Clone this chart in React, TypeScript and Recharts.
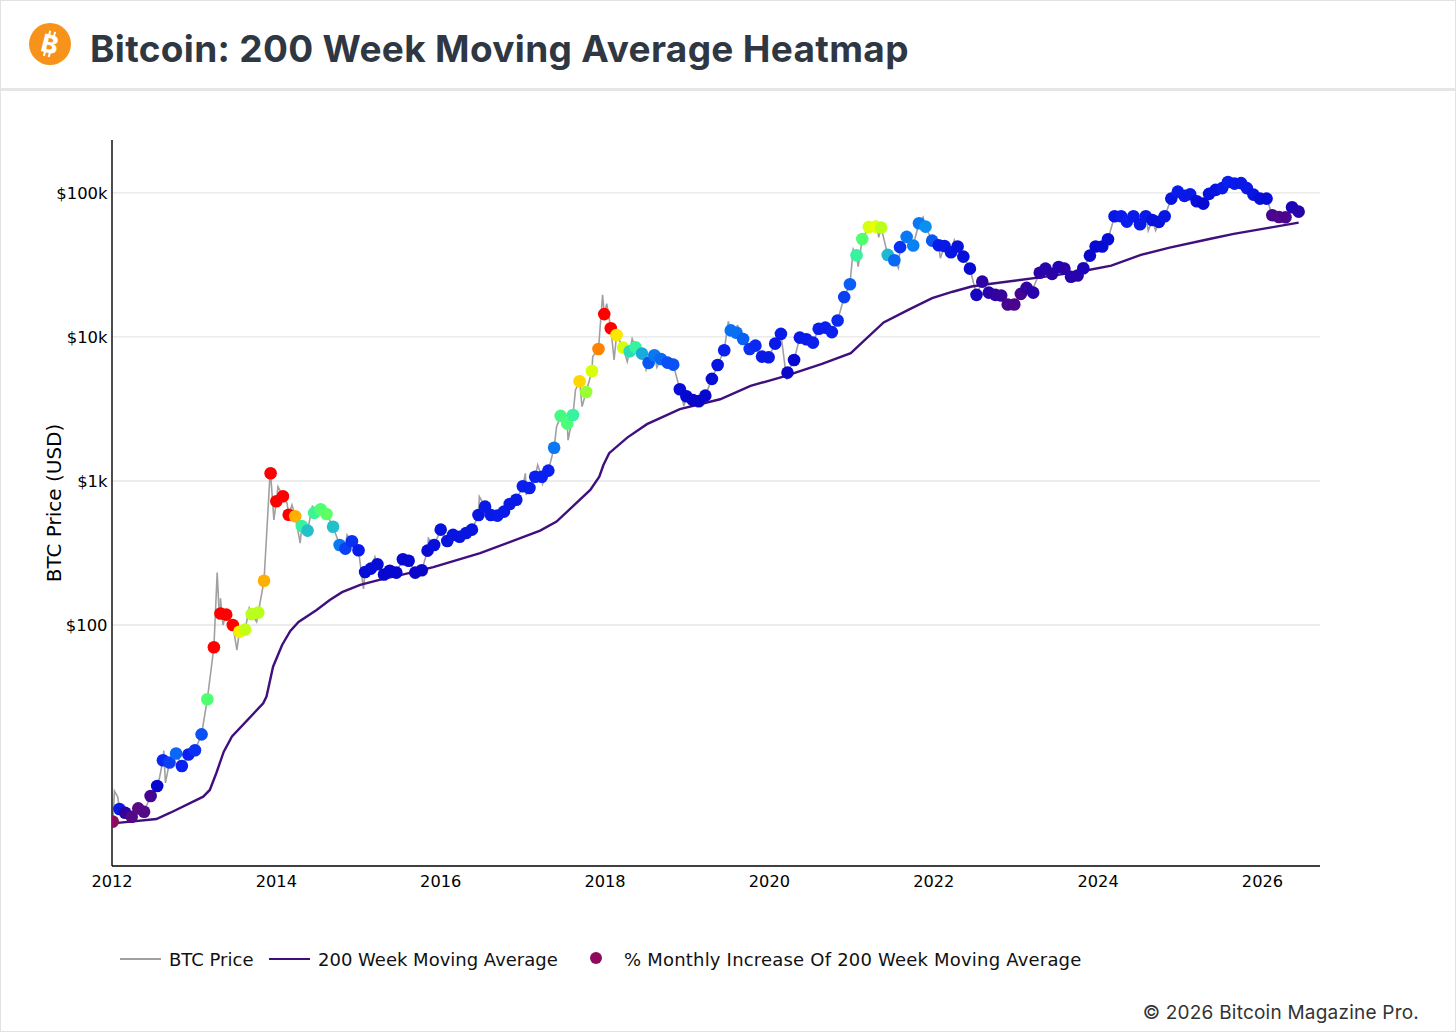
import {
  ComposedChart,
  Line,
  Scatter,
  XAxis,
  YAxis,
  CartesianGrid,
  Label,
} from 'recharts';

// markers every 4 weeks, 13 a row
const markerDates = [
  2012.01, 2012.09, 2012.16, 2012.24, 2012.32, 2012.39, 2012.47, 2012.55, 2012.62, 2012.70, 2012.78, 2012.85, 2012.93,
  2013.01, 2013.09, 2013.16, 2013.24, 2013.32, 2013.39, 2013.47, 2013.55, 2013.62, 2013.70, 2013.78, 2013.85, 2013.93,
  2014.00, 2014.08, 2014.15, 2014.23, 2014.31, 2014.38, 2014.46, 2014.54, 2014.61, 2014.69, 2014.77, 2014.84, 2014.92,
  2015.00, 2015.08, 2015.15, 2015.23, 2015.31, 2015.38, 2015.46, 2015.54, 2015.61, 2015.69, 2015.77, 2015.84, 2015.92,
  2016.00, 2016.08, 2016.15, 2016.23, 2016.31, 2016.38, 2016.46, 2016.54, 2016.61, 2016.69, 2016.77, 2016.84, 2016.92,
  2017.00, 2017.08, 2017.15, 2017.23, 2017.31, 2017.38, 2017.46, 2017.54, 2017.61, 2017.69, 2017.77, 2017.84, 2017.92,
  2017.99, 2018.07, 2018.14, 2018.22, 2018.30, 2018.37, 2018.45, 2018.53, 2018.60, 2018.68, 2018.76, 2018.83, 2018.91,
  2018.99, 2019.07, 2019.14, 2019.22, 2019.30, 2019.37, 2019.45, 2019.53, 2019.60, 2019.68, 2019.76, 2019.83, 2019.91,
  2019.99, 2020.07, 2020.14, 2020.22, 2020.30, 2020.37, 2020.45, 2020.53, 2020.60, 2020.68, 2020.76, 2020.83, 2020.91,
  2020.98, 2021.06, 2021.13, 2021.21, 2021.29, 2021.36, 2021.44, 2021.52, 2021.59, 2021.67, 2021.75, 2021.82, 2021.90,
  2021.98, 2022.06, 2022.13, 2022.21, 2022.29, 2022.36, 2022.44, 2022.52, 2022.59, 2022.67, 2022.75, 2022.82, 2022.90,
  2022.98, 2023.06, 2023.13, 2023.21, 2023.29, 2023.36, 2023.44, 2023.52, 2023.59, 2023.67, 2023.75, 2023.82, 2023.90,
  2023.97, 2024.05, 2024.12, 2024.20, 2024.28, 2024.35, 2024.43, 2024.51, 2024.58, 2024.66, 2024.74, 2024.81, 2024.89,
  2024.97, 2025.05, 2025.12, 2025.20, 2025.28, 2025.35, 2025.43, 2025.51, 2025.58, 2025.66, 2025.74, 2025.81, 2025.89,
  2025.97, 2026.05, 2026.12, 2026.20, 2026.28, 2026.36, 2026.44,
];

const markerPrices = [
  4.31, 5.27, 4.97, 4.66, 5.33, 5.05, 6.49, 7.62, 11.5, 11.1, 12.8, 10.5, 12.6,
  13.5, 17.4, 30.5, 70, 120, 118, 100, 89.8, 92.8, 119, 122, 203, 1130,
  723, 783, 583, 568, 487, 452, 600, 636, 590, 481, 359, 339, 381,
  330, 233, 246, 264, 224, 238, 231, 286, 279, 231, 240, 328, 359,
  459, 383, 422, 410, 435, 459, 580, 663, 580, 574, 612, 692, 741,
  919, 894, 1070, 1070, 1180, 1700, 2830, 2500, 2870, 4920, 4150, 5800, 8250,
  14400, 11500, 10300, 8430, 7960, 8480, 7660, 6600, 7460, 7030, 6630, 6420, 4330,
  3870, 3640, 3580, 3910, 5110, 6390, 8080, 11100, 10700, 9680, 8250, 8700, 7300,
  7230, 8980, 10500, 5650, 6920, 9890, 9640, 9130, 11400, 11600, 10800, 13000, 18900,
  23200, 36900, 47900, 58000, 58300, 57400, 37100, 34100, 42000, 49500, 43100, 61600, 58300,
  46600, 43300, 42800, 38700, 42400, 36100, 29800, 19600, 24200, 20300, 19600, 19400, 16800,
  16800, 19900, 21900, 20300, 27900, 29800, 27400, 30600, 29800, 26200, 26700, 30000, 36700,
  42400, 42400, 47700, 68900, 68900, 63200, 68900, 60600, 68900, 64900, 62900, 68900, 91300,
  102000, 95300, 97900, 87600, 84300, 98400, 105000, 108000, 119000, 116000, 117000, 108000, 97300,
  91300, 91300, 70000, 68100, 67800, 79600, 74100,
];

// colour position of each marker, 0 (purple) to 100 (red)
const markerHeat = [
  0, 33, 18, 10, 8, 9, 14, 26, 37, 40, 45, 36, 36,
  38, 42, 68, 100, 100, 100, 100, 84, 78, 77, 77, 91, 100,
  100, 100, 100, 91, 63, 57, 64, 68, 69, 57, 47, 40, 38,
  34, 28, 28, 28, 26, 26, 26, 27, 27, 25, 25, 27, 29,
  30, 30, 31, 31, 31, 31, 32, 33, 33, 34, 34, 33, 33,
  35, 35, 36, 36, 36, 47, 66, 67, 63, 87, 74, 80, 94,
  100, 100, 85, 80, 60, 63, 54, 43, 47, 45, 42, 42, 28,
  26, 25, 25, 26, 28, 31, 35, 46, 46, 44, 38, 37, 33,
  33, 33, 34, 25, 26, 33, 34, 35, 35, 35, 36, 37, 40,
  44, 63, 68, 80, 82, 77, 56, 45, 38, 47, 48, 47, 50,
  43, 34, 33, 32, 30, 29, 27, 23, 19, 20, 18, 17, 13,
  12, 14, 18, 20, 19, 20, 19, 21, 19, 20, 20, 22, 25,
  26, 27, 28, 32, 34, 35, 34, 33, 33, 30, 30, 32, 31,
  34, 33, 33, 29, 27, 30, 31, 33, 35, 34, 33, 33, 31,
  29, 28, 13, 11, 12, 22, 20,
];

// extra highs and lows of the grey price line between markers
const wickDates = [
  2012.03, 2012.07, 2012.12, 2012.58, 2012.63, 2012.65, 2013.28, 2013.30, 2013.32, 2013.35, 2013.52, 2013.67, 2013.76,
  2013.92, 2013.97, 2014.02, 2014.13, 2014.19, 2014.29, 2014.44, 2014.86, 2015.06, 2015.20, 2015.85, 2016.47,
  2017.03, 2017.04, 2017.18, 2017.24, 2017.41, 2017.55, 2017.64, 2017.72, 2017.85, 2017.97, 2018.02, 2018.11,
  2018.27, 2018.33, 2018.50, 2018.63, 2018.96, 2019.50, 2019.61, 2020.21, 2021.02, 2021.08, 2021.30, 2021.33,
  2021.57, 2021.87, 2022.08, 2022.25, 2023.22, 2024.61, 2024.70,
];

const wickPrices = [
  7.03, 6.4, 5.6, 8.8, 13.4, 8.0, 231, 134, 153, 100, 67, 131, 105,
  1040, 536, 913, 703, 681, 370, 674, 422, 178, 298, 400, 778,
  1130, 800, 1290, 953, 2380, 1920, 4280, 3280, 7300, 19600, 17000, 6920,
  6740, 9700, 5900, 6160, 3310, 12800, 12100, 5060, 40600, 30800, 64200, 49200,
  30000, 67800, 35200, 47100, 22600, 54700, 54700,
];

const maDates = [
  2012.01, 2012.04, 2012.54, 2012.71, 2013.11, 2013.19, 2013.27, 2013.36, 2013.46, 2013.84, 2013.88, 2013.96, 2014.07,
  2014.17, 2014.27, 2014.49, 2014.65, 2014.80, 2015.02, 2015.30, 2015.51, 2015.91, 2016.48, 2017.21, 2017.41, 2017.82,
  2017.93, 2017.98, 2018.05, 2018.27, 2018.51, 2018.91, 2019.40, 2019.77, 2020.17, 2020.64, 2020.99, 2021.12, 2021.39,
  2021.69, 2021.98, 2022.23, 2022.46, 2022.65, 2023.36, 2023.82, 2024.16, 2024.52, 2024.87, 2025.34, 2025.65, 2026.09,
  2026.44,
];

const maValues = [
  4.2, 4.21, 4.49, 4.97, 6.42, 7.15, 9.38, 13.2, 16.8, 28.6, 31.8, 51.3, 72.6,
  90.8, 105, 127, 149, 169, 190, 209, 222, 252, 315, 452, 522, 866,
  1070, 1290, 1560, 2000, 2480, 3150, 3690, 4570, 5300, 6490, 7710, 9040, 12600,
  15400, 18600, 20600, 22400, 23200, 26200, 28700, 31300, 37100, 41700, 47700, 51900, 57400,
  62200,
];

const yearTicks = [2012, 2014, 2016, 2018, 2020, 2022, 2024, 2026];
const priceTicks = [100, 1000, 10000, 100000];

const heatStops = [0, 8, 16, 26, 36, 44, 50, 56, 62, 68, 76, 82, 86, 92, 96, 100];
const heatColors = [
  '#8e0a5e', '#5a0a82', '#3c0096', '#0608d0', '#0a20f0', '#0a60f5', '#0a90f0', '#1fb8d0',
  '#30f0a8', '#50ff70', '#b0ff20', '#e8ff00', '#ffe000', '#ffa500', '#ff6000', '#ff0000',
];

const markerRows = markerDates.map((date, i) => ({
  date,
  price: markerPrices[i],
  heat: markerHeat[i],
}));
const priceRows = [
  ...markerDates.map((date, i) => ({ date, price: markerPrices[i] })),
  ...wickDates.map((date, i) => ({ date, price: wickPrices[i] })),
].sort((a, b) => a.date - b.date);
const maRows = maDates.map((date, i) => ({ date, ma: maValues[i] }));

const FONT = '"DejaVu Sans", Verdana, sans-serif';

function hexToRgb(hex: string) {
  return [1, 3, 5].map(p => parseInt(hex.slice(p, p + 2), 16));
}

function heatColor(h: number) {
  let i = 0;
  while (i < heatStops.length - 2 && h > heatStops[i + 1]) i++;
  const t = (h - heatStops[i]) / (heatStops[i + 1] - heatStops[i]);
  const a = hexToRgb(heatColors[i]);
  const b = hexToRgb(heatColors[i + 1]);
  return `rgb(${a.map((v, k) => Math.round(v + (b[k] - v) * t)).join(',')})`;
}

function formatPrice(v: number) {
  return v >= 1000 ? `$${v / 1000}k` : `$${v}`;
}

function HeatDot(props: any) {
  return <circle cx={props.cx} cy={props.cy} r={6.3} fill={heatColor(props.payload.heat)} />;
}

export default function App() {
  return (
    <div
      style={{
        position: 'absolute',
        left: 0,
        top: 0,
        width: 1456,
        height: 1032,
        background: '#fff',
        boxSizing: 'border-box',
        border: '1px solid #e2e2e2',
        overflow: 'hidden',
      }}
    >
      {/* Header */}
      <div style={{ position: 'absolute', left: -1, top: 87, width: 1456, height: 3, background: '#e6e6e6' }} />
      <svg style={{ position: 'absolute', left: 28, top: 22 }} width={44} height={44}>
        <circle cx={21} cy={21} r={21} fill="#f7931a" />
        <g transform="rotate(14 21 21)" fill="#fff">
          <text x={21} y={30} textAnchor="middle" fontFamily="Inter, sans-serif" fontWeight={800} fontSize={25}>
            B
          </text>
          <rect x={17} y={8} width={2} height={5} />
          <rect x={22} y={8} width={2} height={5} />
          <rect x={17} y={29} width={2} height={5} />
          <rect x={22} y={29} width={2} height={5} />
        </g>
      </svg>
      <div
        style={{
          position: 'absolute',
          left: 89,
          top: 25,
          fontFamily: 'Inter, sans-serif',
          fontWeight: 700,
          fontSize: 37,
          letterSpacing: 0.33,
          lineHeight: '46px',
          color: '#2f3742',
          whiteSpace: 'nowrap',
        }}
      >
        Bitcoin: 200 Week Moving Average Heatmap
      </div>

      <div style={{ position: 'absolute', left: -1, top: -1 }}>
        <ComposedChart
          width={1456}
          height={1032}
          margin={{ top: 140, right: 136, bottom: 0, left: 0 }}
        >
          <CartesianGrid vertical={false} syncWithTicks stroke="#e6e6e6" strokeWidth={1.4} />
          <XAxis
            dataKey="date"
            type="number"
            domain={[2012, 2026.7]}
            ticks={yearTicks}
            allowDataOverflow
            height={166}
            tickSize={0}
            tickMargin={9}
            tickFormatter={(v: number) => String(v)}
            stroke="#000"
            strokeWidth={1.4}
            tick={{ fill: '#000', fontSize: 16.2, fontFamily: FONT }}
          />
          <YAxis
            type="number"
            scale="log"
            domain={[2.12, 233000]}
            ticks={priceTicks}
            allowDataOverflow
            width={112}
            tickSize={0}
            tickMargin={4.5}
            tickFormatter={formatPrice}
            stroke="#000"
            strokeWidth={1.4}
            tick={{ fill: '#000', fontSize: 16.4, fontFamily: FONT }}
          >
            <Label
              value="BTC Price (USD)"
              angle={-90}
              position="insideLeft"
              offset={54}
              style={{ fill: '#000', fontSize: 20, fontFamily: FONT, textAnchor: 'middle' }}
            />
          </YAxis>
          <Line
            data={priceRows}
            dataKey="price"
            stroke="#a0a0a0"
            strokeWidth={1.6}
            dot={false}
            isAnimationActive={false}
          />
          <Line
            data={maRows}
            dataKey="ma"
            stroke="#3f0f7d"
            strokeWidth={2.4}
            dot={false}
            isAnimationActive={false}
          />
          <Scatter data={markerRows} dataKey="price" shape={HeatDot} isAnimationActive={false} />
        </ComposedChart>
      </div>

      {/* Legend */}
      <div style={{ fontFamily: FONT, fontSize: 18, color: '#111', whiteSpace: 'nowrap' }}>
        <span style={{ position: 'absolute', left: 119, top: 957, width: 41, height: 1.5, background: '#a0a0a0' }} />
        <span style={{ position: 'absolute', left: 168, top: 948 }}>BTC Price</span>
        <span style={{ position: 'absolute', left: 268, top: 957, width: 41, height: 2, background: '#3f0f7d' }} />
        <span style={{ position: 'absolute', left: 317, top: 948 }}>200 Week Moving Average</span>
        <span style={{ position: 'absolute', left: 589, top: 951, width: 12, height: 12, borderRadius: 6, background: '#8e0a5e' }} />
        <span style={{ position: 'absolute', left: 623, top: 948, letterSpacing: 0.2 }}>
          % Monthly Increase Of 200 Week Moving Average
        </span>
      </div>
      <div
        style={{
          position: 'absolute',
          right: 36,
          top: 1000,
          fontFamily: 'Inter, sans-serif',
          fontSize: 19,
          letterSpacing: 0.22,
          color: '#333',
          whiteSpace: 'nowrap',
        }}
      >
        © 2026 Bitcoin Magazine Pro.
      </div>
    </div>
  );
}
